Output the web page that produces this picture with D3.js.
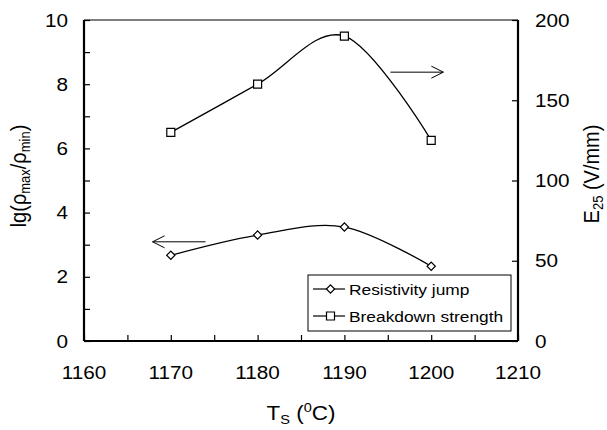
<!DOCTYPE html>
<html>
<head>
<meta charset="utf-8">
<script src="https://cdn.jsdelivr.net/npm/d3@7"></script>
<style>
  body { margin: 0; background: #fff; }
  text { font-family: "Liberation Sans", Arial, sans-serif; fill: #000; }
</style>
</head>
<body>
<div id="chart"></div>
<script>
// data
var temps = [1170, 1180, 1190, 1200];
var resistivityJump = [2.67, 3.3, 3.55, 2.33];
var breakdownStrength = [130, 160, 190, 125];

var xTicks = [1160, 1170, 1180, 1190, 1200, 1210];
var yLeftTicks = [0, 2, 4, 6, 8, 10];
var yRightTicks = [0, 50, 100, 150, 200];

var svgWidth = 607;
var svgHeight = 430;

var margin = { top: 20, right: 89, bottom: 89, left: 84 };
var width = svgWidth - margin.left - margin.right;
var height = svgHeight - margin.top - margin.bottom;

// the original text looks a bit wider than it is tall
var stretch = 1.12;

var svg = d3.select("#chart")
  .append("svg")
  .attr("width", svgWidth)
  .attr("height", svgHeight);

var chartGroup = svg.append("g")
  .attr("transform", `translate(${margin.left}, ${margin.top})`);

var xScale = d3.scaleLinear().domain([1160, 1210]).range([0, width]);
var yLeft = d3.scaleLinear().domain([0, 10]).range([height, 0]);
var yRight = d3.scaleLinear().domain([0, 200]).range([height, 0]);

// top frame line
chartGroup.append("line")
  .attr("x1", 0).attr("x2", width)
  .attr("y1", 0).attr("y2", 0)
  .attr("stroke", "#000").attr("stroke-width", 1);

// axes with inward ticks
var bottomAxis = d3.axisBottom(xScale).tickValues(d3.range(1160, 1211, 5)).tickSize(-6).tickFormat("");
var leftAxis = d3.axisLeft(yLeft).tickValues(d3.range(0, 11, 1)).tickSize(-6).tickFormat("");
var rightAxis = d3.axisRight(yRight).tickValues(yRightTicks).tickSize(-6).tickFormat("");

function styleAxis(g) {
  g.select(".domain").attr("stroke-width", 2.2);
  g.selectAll(".tick line").attr("stroke-width", 1.2);
}

chartGroup.append("g")
  .attr("transform", `translate(0, ${height})`)
  .call(bottomAxis)
  .call(g => g.select(".domain").attr("d", `M0,0H${width}`))
  .call(styleAxis);

chartGroup.append("g")
  .call(leftAxis)
  .call(g => g.select(".domain").attr("d", `M0,${height}V0`))
  .call(styleAxis);

chartGroup.append("g")
  .attr("transform", `translate(${width}, 0)`)
  .call(rightAxis)
  .call(g => g.select(".domain").attr("d", `M0,${height}V0`))
  .call(styleAxis);

// tick labels
chartGroup.selectAll(".xlab")
  .data(xTicks)
  .enter()
  .append("text")
  .attr("transform", d => `translate(${xScale(d)}, ${height + 38}) scale(${stretch}, 1)`)
  .attr("text-anchor", "middle")
  .attr("font-size", 18.5)
  .text(d => d);

chartGroup.selectAll(".ylab")
  .data(yLeftTicks)
  .enter()
  .append("text")
  .attr("transform", d => `translate(-16, ${yLeft(d)}) scale(${stretch}, 1)`)
  .attr("dy", "0.36em")
  .attr("text-anchor", "end")
  .attr("font-size", 18.5)
  .text(d => d);

chartGroup.selectAll(".y2lab")
  .data(yRightTicks)
  .enter()
  .append("text")
  .attr("transform", d => `translate(${width + 17}, ${yRight(d)}) scale(${stretch}, 1)`)
  .attr("dy", "0.36em")
  .attr("text-anchor", "start")
  .attr("font-size", 18.5)
  .text(d => d);

// axis titles
var yTitle = svg.append("text")
  .attr("transform", `translate(26, 176) scale(${stretch}, 1) rotate(-90)`)
  .attr("text-anchor", "middle")
  .attr("font-size", 20);
yTitle.append("tspan").text("lg(ρ");
yTitle.append("tspan").attr("font-size", 13).attr("dy", 4).text("max");
yTitle.append("tspan").attr("dy", -4).text("/ρ");
yTitle.append("tspan").attr("font-size", 13).attr("dy", 4).text("min");
yTitle.append("tspan").attr("dy", -4).text(")");

var y2Title = svg.append("text")
  .attr("transform", `translate(599, 174) scale(${stretch}, 1) rotate(-90)`)
  .attr("text-anchor", "middle")
  .attr("font-size", 20);
y2Title.append("tspan").text("E");
y2Title.append("tspan").attr("font-size", 13).attr("dy", 4).text("25");
y2Title.append("tspan").attr("dy", -4).text(" (V/mm)");

var xTitle = svg.append("text")
  .attr("transform", `translate(301, 420) scale(${stretch}, 1)`)
  .attr("text-anchor", "middle")
  .attr("font-size", 20);
xTitle.append("tspan").text("T");
xTitle.append("tspan").attr("font-size", 13).attr("dy", 4).text("S");
xTitle.append("tspan").attr("dy", -4).text(" (");
xTitle.append("tspan").attr("font-size", 13).attr("dy", -8).text("0");
xTitle.append("tspan").attr("dy", 8).text("C)");

// smoothed lines
var curve = d3.curveCardinal.tension(0);

var resLine = d3.line()
  .x((d, i) => xScale(temps[i]))
  .y(d => yLeft(d))
  .curve(curve);

var bdLine = d3.line()
  .x((d, i) => xScale(temps[i]))
  .y(d => yRight(d))
  .curve(curve);

chartGroup.append("path")
  .attr("d", resLine(resistivityJump))
  .attr("fill", "none")
  .attr("stroke", "#000")
  .attr("stroke-width", 1.3);

chartGroup.append("path")
  .attr("d", bdLine(breakdownStrength))
  .attr("fill", "none")
  .attr("stroke", "#000")
  .attr("stroke-width", 1.3);

// markers
var diamond = d3.symbol().type(d3.symbolSquare).size(34);
chartGroup.selectAll(".diamond")
  .data(resistivityJump)
  .enter()
  .append("path")
  .attr("d", diamond)
  .attr("transform", (d, i) => `translate(${xScale(temps[i])}, ${yLeft(d)}) rotate(45)`)
  .attr("fill", "#fff")
  .attr("stroke", "#000")
  .attr("stroke-width", 1.2);

var square = d3.symbol().type(d3.symbolSquare).size(64);
chartGroup.selectAll(".square")
  .data(breakdownStrength)
  .enter()
  .append("path")
  .attr("d", square)
  .attr("transform", (d, i) => `translate(${xScale(temps[i])}, ${yRight(d)})`)
  .attr("fill", "#fff")
  .attr("stroke", "#000")
  .attr("stroke-width", 1.2);

// arrows pointing to each series' axis
function arrow(x1, x2, y, dir) {
  var tip = dir < 0 ? x1 : x2;
  chartGroup.append("line")
    .attr("x1", x1).attr("x2", x2)
    .attr("y1", y).attr("y2", y)
    .attr("stroke", "#000").attr("stroke-width", 1);
  chartGroup.append("path")
    .attr("d", `M${tip - dir * 12},${y - 6}L${tip},${y}L${tip - dir * 12},${y + 6}`)
    .attr("fill", "none")
    .attr("stroke", "#000").attr("stroke-width", 1);
}
arrow(xScale(1167.9), xScale(1174), yLeft(3.09), -1);
arrow(xScale(1195.3), xScale(1201.4), yRight(167.5), 1);

// legend
var legend = svg.append("g").attr("transform", "translate(308, 275)");
legend.append("rect")
  .attr("width", 203).attr("height", 56)
  .attr("fill", "#fff").attr("stroke", "#000").attr("stroke-width", 1);

var legendItems = [
  { label: "Resistivity jump", sym: diamond, rot: 45 },
  { label: "Breakdown strength", sym: square, rot: 0 }
];
legendItems.forEach(function(item, i) {
  var y = 14 + i * 27;
  legend.append("line")
    .attr("x1", 5).attr("x2", 37)
    .attr("y1", y).attr("y2", y)
    .attr("stroke", "#000").attr("stroke-width", 1.2);
  legend.append("path")
    .attr("d", item.sym)
    .attr("transform", `translate(22.5, ${y}) rotate(${item.rot})`)
    .attr("fill", "#fff").attr("stroke", "#000").attr("stroke-width", 1.2);
  legend.append("text")
    .attr("transform", `translate(41, ${y}) scale(${stretch}, 1)`)
    .attr("dy", "0.36em")
    .attr("font-size", 15.5)
    .text(item.label);
});
</script>
</body>
</html>
